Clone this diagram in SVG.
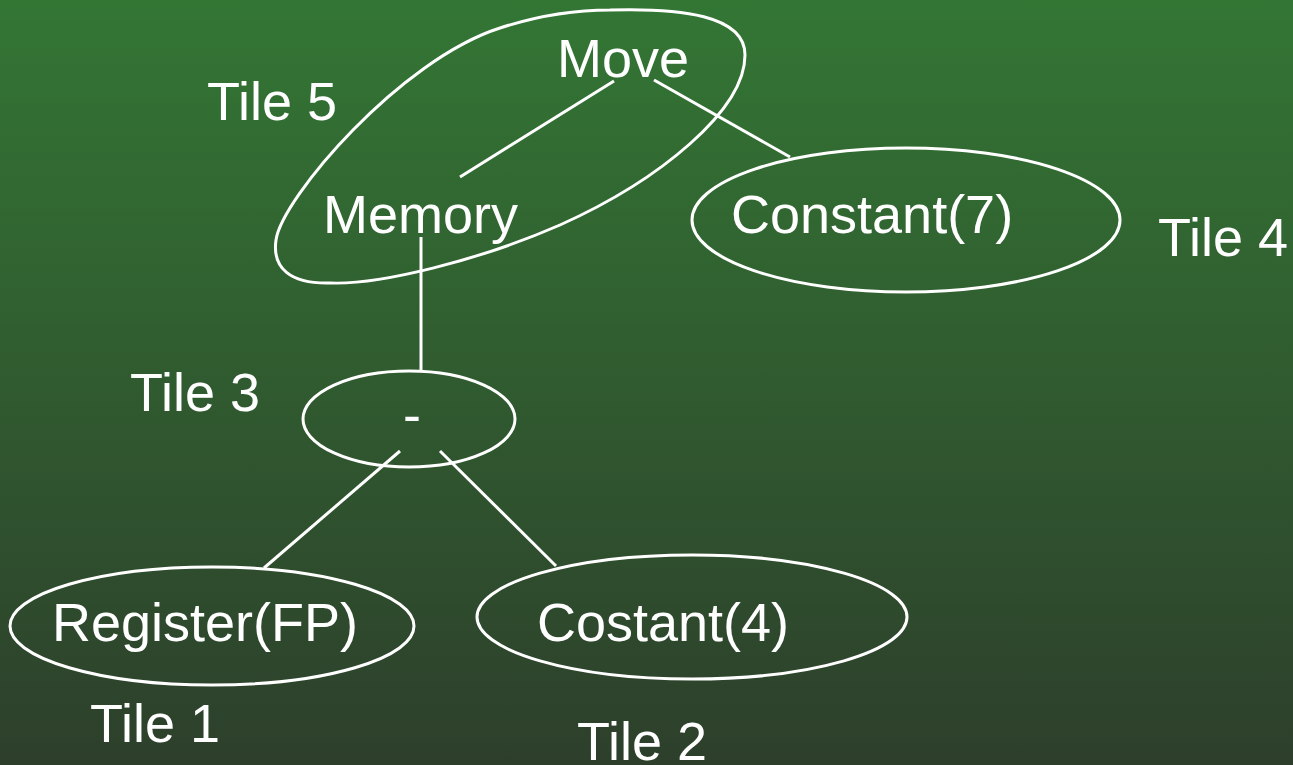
<svg xmlns="http://www.w3.org/2000/svg" width="1293" height="765" viewBox="0 0 1293 765">
<defs>
<linearGradient id="bg" x1="0" y1="0" x2="0" y2="1">
<stop offset="0" stop-color="#337634"/>
<stop offset="1" stop-color="#2D3F2B"/>
</linearGradient>
<style>
text{font-family:"Liberation Sans",Arial,sans-serif;font-size:54px;fill:#fff}
.n{fill:none;stroke:#fff;stroke-width:3}
#edges line{stroke:#fff;stroke-width:3}
</style>
</defs>
<rect width="1293" height="765" fill="url(#bg)"/>
<g id="edges">
<line x1="614" y1="81" x2="460" y2="177"/>
<line x1="654" y1="80" x2="790" y2="157"/>
<line x1="421" y1="237" x2="421" y2="370"/>
<line x1="400" y1="451" x2="264" y2="568"/>
<line x1="440" y1="451" x2="556" y2="566"/>
</g>
<g id="tile5"><path class="n" d="M610,10 C680,8 745,15 745,55 C745,110 660,180 560,225 C480,260 380,285 330,283 C290,284 272,268 276,240 C282,198 400,60 500,28 C540,15 580,10 610,10 Z"/><text x="207" y="120">Tile 5</text></g>
<g id="move"><text x="557" y="77">Move</text></g>
<g id="memory"><text x="323" y="233">Memory</text></g>
<g id="constant7"><ellipse class="n" cx="906" cy="220" rx="214" ry="72"/><text x="731" y="233">Constant(7)</text></g>
<g id="tile4"><text x="1158" y="256">Tile 4</text></g>
<g id="minus"><ellipse class="n" cx="409" cy="419" rx="106" ry="48"/><text x="403" y="433">-</text></g>
<g id="tile3"><text x="130" y="411">Tile 3</text></g>
<g id="register"><ellipse class="n" cx="212" cy="626" rx="202" ry="59"/><text x="52" y="641">Register(FP)</text></g>
<g id="costant4"><ellipse class="n" cx="692" cy="617" rx="215" ry="62"/><text x="537" y="641">Costant(4)</text></g>
<g id="tile1"><text x="90" y="742">Tile 1</text></g>
<g id="tile2"><text x="577" y="760">Tile 2</text></g>
</svg>
